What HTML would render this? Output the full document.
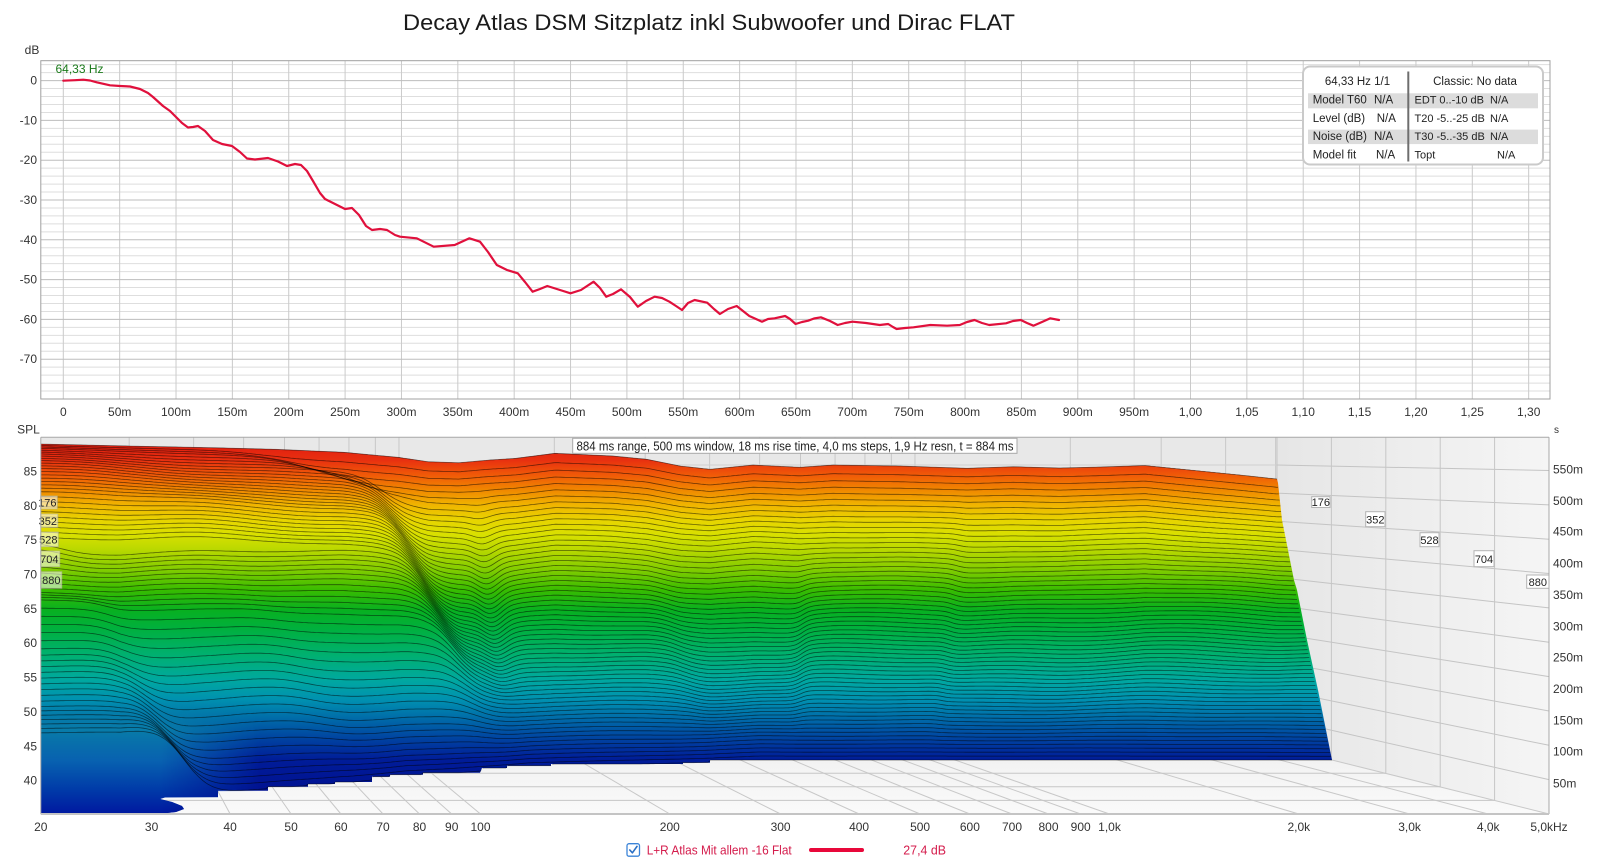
<!DOCTYPE html>
<html><head><meta charset="utf-8">
<style>
html,body{margin:0;padding:0;background:#fff;}
svg{display:block;}
text{font-family:"Liberation Sans",sans-serif;}
</style></head>
<body>
<svg id="s" width="1600" height="865" viewBox="0 0 1600 865" xmlns="http://www.w3.org/2000/svg">
<defs>
 <linearGradient id="spl" gradientUnits="userSpaceOnUse" x1="0" y1="437" x2="0" y2="814">
  <stop offset="0.008" stop-color="#e01810"/>
  <stop offset="0.061" stop-color="#e83010"/>
  <stop offset="0.101" stop-color="#f05a08"/>
  <stop offset="0.141" stop-color="#f08800"/>
  <stop offset="0.180" stop-color="#f0b400"/>
  <stop offset="0.220" stop-color="#e8d400"/>
  <stop offset="0.260" stop-color="#d8e000"/>
  <stop offset="0.300" stop-color="#b8d800"/>
  <stop offset="0.353" stop-color="#80cc00"/>
  <stop offset="0.406" stop-color="#38bc00"/>
  <stop offset="0.459" stop-color="#08b020"/>
  <stop offset="0.512" stop-color="#00b040"/>
  <stop offset="0.578" stop-color="#00b070"/>
  <stop offset="0.645" stop-color="#00a8a0"/>
  <stop offset="0.698" stop-color="#0090b0"/>
  <stop offset="0.751" stop-color="#0068a8"/>
  <stop offset="0.804" stop-color="#0040a0"/>
  <stop offset="0.857" stop-color="#001c98"/>
  <stop offset="0.963" stop-color="#000e90"/>
  <stop offset="1" stop-color="#000a88"/>
 </linearGradient>
 <linearGradient id="g2" gradientUnits="userSpaceOnUse" x1="0" y1="700" x2="0" y2="814">
  <stop offset="0" stop-color="#0a90a8" stop-opacity="0"/>
  <stop offset="0.26" stop-color="#0a86aa" stop-opacity="0.8"/>
  <stop offset="0.53" stop-color="#0862b0" stop-opacity="1"/>
  <stop offset="0.79" stop-color="#003aa8"/>
  <stop offset="1" stop-color="#0018a0"/>
 </linearGradient>
 <linearGradient id="fadeX" gradientUnits="userSpaceOnUse" x1="40" y1="0" x2="260" y2="0">
  <stop offset="0" stop-color="#fff"/>
  <stop offset="0.55" stop-color="#fff"/>
  <stop offset="1" stop-color="#000"/>
 </linearGradient>
 <mask id="m2" maskUnits="userSpaceOnUse" x="0" y="0" width="1600" height="865">
  <rect x="40" y="690" width="230" height="130" fill="url(#fadeX)"/>
 </mask>
 <linearGradient id="rwall" gradientUnits="userSpaceOnUse" x1="1277" y1="0" x2="1549" y2="0">
  <stop offset="0" stop-color="#e6e6e6"/>
  <stop offset="1" stop-color="#f5f5f5"/>
 </linearGradient>
 <linearGradient id="floorg" gradientUnits="userSpaceOnUse" x1="0" y1="746" x2="0" y2="814">
  <stop offset="0" stop-color="#f0f0f0"/>
  <stop offset="1" stop-color="#fafafa"/>
 </linearGradient>
 <clipPath id="surfclip">
  <polygon points="40.8,443.5 128,445.5 214,447.2 275,448.8 344,451.8 398,456.8 428,461.2 459,462.2 490,459.5 516,457.8 555,452.8 613,455.5 647,458.8 680,465.5 710,468.8 753,464.5 800,466.8 833,464.5 900,465.5 967,467.8 1013,466.2 1060,467.5 1100,466.5 1145,465 1200,470.5 1240,474.5 1277,478.5 1278,483 1282,520 1294,580 1297,590 1307,640 1318,690 1332,760.5 710,760.5 710,763.2 683,763.2 683,764.5 551,764.5 551,766.2 507,766.2 507,768.5 482,768.5 480,773.2 423,773.2 423,775.2 390,775.2 390,777.2 372,777.2 372,782.5 335,782.5 335,784.5 308,784.5 308,787.2 268,787.2 268,791.2 218,791.2 218,797.5 165,797.5 160,799 172,802 182,806 184,809 176,812 158,814 40.8,814"/>
 </clipPath>
</defs>

<rect x="0" y="0" width="1600" height="865" fill="#fff"/>

<!-- Title -->
<text x="709" y="30" font-size="22" text-anchor="middle" fill="#1a1a1a" textLength="612" lengthAdjust="spacingAndGlyphs">Decay Atlas DSM Sitzplatz inkl Subwoofer und Dirac FLAT</text>

<!-- ================= TOP CHART ================= -->
<rect x="40.8" y="60.7" width="1509.2" height="338.3" fill="#fff"/>
<g id="topgrid"></g>
<rect x="40.8" y="60.7" width="1509.2" height="338.3" fill="none" stroke="#a0a0a0" stroke-width="1"/>

<text x="32" y="54" font-size="12" text-anchor="middle" fill="#333">dB</text>
<g font-size="12" fill="#333" text-anchor="end">
 <text x="37" y="84.6">0</text>
 <text x="37" y="124.4">-10</text>
 <text x="37" y="164.2">-20</text>
 <text x="37" y="204">-30</text>
 <text x="37" y="243.8">-40</text>
 <text x="37" y="283.6">-50</text>
 <text x="37" y="323.4">-60</text>
 <text x="37" y="363.2">-70</text>
</g>
<g font-size="12" fill="#333" text-anchor="middle">
 <text x="63.3" y="416">0</text>
 <text x="119.7" y="416">50m</text>
 <text x="176" y="416">100m</text>
 <text x="232.4" y="416">150m</text>
 <text x="288.7" y="416">200m</text>
 <text x="345.1" y="416">250m</text>
 <text x="401.5" y="416">300m</text>
 <text x="457.8" y="416">350m</text>
 <text x="514.2" y="416">400m</text>
 <text x="570.5" y="416">450m</text>
 <text x="626.9" y="416">500m</text>
 <text x="683.3" y="416">550m</text>
 <text x="739.6" y="416">600m</text>
 <text x="796" y="416">650m</text>
 <text x="852.3" y="416">700m</text>
 <text x="908.7" y="416">750m</text>
 <text x="965.1" y="416">800m</text>
 <text x="1021.4" y="416">850m</text>
 <text x="1077.8" y="416">900m</text>
 <text x="1134.1" y="416">950m</text>
 <text x="1190.5" y="416">1,00</text>
 <text x="1246.9" y="416">1,05</text>
 <text x="1303.2" y="416">1,10</text>
 <text x="1359.6" y="416">1,15</text>
 <text x="1415.9" y="416">1,20</text>
 <text x="1472.3" y="416">1,25</text>
 <text x="1528.7" y="416">1,30</text>
</g>
<text x="1554" y="433" font-size="10" fill="#333">s</text>

<text x="55.5" y="73" font-size="12" fill="#1a7a1a">64,33 Hz</text>

<polyline fill="none" stroke="#e0103c" stroke-width="2.2" stroke-linejoin="round" stroke-linecap="round" points="63.3,80.7 75,80.2 83.3,79.7 90,80.5 96.7,82.3 110,85.3 120,86 130,86.5 140,89 148,93 153,97 163,106 170,111 175,116 182,123 188,127.5 193,127 198,126 205,131 213,140 222,144 232,146 240,152 247,158.5 255,159.5 268,158 278,161.5 287,166 295,164 301,165 307,171 313,181 320,193 325,199 335,204 345,209 352,208 359,215 366,226 372,230 380,229 387,230 395,235 400,236.7 416.8,238.3 433.7,246.7 454.7,245 469.4,238.3 480,241.7 488,252 496.8,265 507,270 517.8,273.3 525,282 532.6,291.7 540,289 547.3,286 560,290 570.5,293.3 581,290 593.6,281.7 600,288 606.2,296.7 613,294 621,289.3 630,297 637.8,306.7 646,301 654.6,296.7 662,298 669.4,301.7 676,306 682,310 688,303 694.6,300 707.2,302.7 714,309 719.9,314 728,309 736.7,306 743,311 749.3,316 756,319 762,321.7 768,319 774.6,318.3 785.1,316 790,319 795.6,324 802,322 808.2,320.7 814,318.5 820.9,317.3 830,321 837.7,325 845,323 852.4,321.7 866,323 879.8,325 888.2,324 893,327 896.6,329 905,328 913.5,327.3 930.3,325 947.1,325.7 959.8,325 967,322 974.5,320 982,323 989.2,325 1006,323.3 1013,321 1020.8,320 1027,323 1033.4,325.7 1042,322 1050.3,318.3 1059,320"/>

<!-- Info box -->
<rect x="1303" y="66.5" width="240" height="98" rx="7" ry="7" fill="#fff" stroke="#cacaca" stroke-width="2"/>
<rect x="1308" y="93.3" width="230" height="15" fill="#dcdcdc"/>
<rect x="1308" y="129.6" width="230" height="14.5" fill="#dcdcdc"/>
<line x1="1408.3" y1="71.5" x2="1408.3" y2="161.5" stroke="#6e6e6e" stroke-width="2"/>
<g font-size="11.5" fill="#222">
 <text x="1357.5" y="85.2" text-anchor="middle">64,33 Hz 1/1</text>
 <text x="1475" y="85.2" text-anchor="middle">Classic: No data</text>
 <text x="1312.7" y="103.6">Model T60</text>
 <text x="1374" y="103.6">N/A</text>
 <text x="1312.7" y="121.9">Level (dB)</text>
 <text x="1376.7" y="121.9">N/A</text>
 <text x="1312.7" y="140.2">Noise (dB)</text>
 <text x="1374" y="140.2">N/A</text>
 <text x="1312.7" y="158.3">Model fit</text>
 <text x="1376" y="158.3">N/A</text>
</g>
<g font-size="11" fill="#222">
 <text x="1414.5" y="103.6">EDT 0..-10 dB</text>
 <text x="1490" y="103.6">N/A</text>
 <text x="1414.5" y="121.9">T20 -5..-25 dB</text>
 <text x="1490" y="121.9">N/A</text>
 <text x="1414.5" y="140.2">T30 -5..-35 dB</text>
 <text x="1490" y="140.2">N/A</text>
 <text x="1414.5" y="158.3">Topt</text>
 <text x="1497" y="158.3">N/A</text>
</g>

<!-- ================= WATERFALL ================= -->
<text x="28.5" y="433.5" font-size="12" text-anchor="middle" fill="#333">SPL</text>
<!-- walls -->
<rect x="40.8" y="437.3" width="1236.2" height="308.7" fill="#e8e8e8"/>
<polygon points="1277,437.3 1549,437.3 1549,814 1277,746" fill="url(#rwall)"/>
<polygon points="40.8,746 1277,746 1549,814 40.8,814" fill="url(#floorg)"/>
<g id="wfgrid"></g>

<!-- surface -->
<polygon fill="url(#spl)" points="40.8,444 128,446 214,447.7 275,449.3 344,452.3 398,457.3 428,461.7 459,462.7 490,460 516,458.3 555,453.3 613,456 647,459.3 680,466 710,469.3 753,465 800,467.3 833,465 900,466 967,468.3 1013,466.7 1060,468 1100,467 1145,465.5 1200,471 1240,475 1277,479 1278,483 1282,520 1294,580 1297,590 1307,640 1318,690 1332,760 710,760 710,762.7 683,762.7 683,764 551,764 551,765.7 507,765.7 507,768 482,768 480,772.7 423,772.7 423,774.7 390,774.7 390,776.7 372,776.7 372,782 335,782 335,784 308,784 308,786.7 268,786.7 268,790.7 218,790.7 218,797 165,797 160,799 172,802 182,806 184,809 176,812 158,814 40.8,814"/>
<rect x="40.8" y="700" width="230" height="114" fill="url(#g2)" mask="url(#m2)" clip-path="url(#surfclip)"/>
<g id="wflines" clip-path="url(#surfclip)"></g>

<!-- info text box -->
<rect x="572.7" y="438.3" width="444.3" height="15" fill="#fff" stroke="#a8a8a8" stroke-width="1"/>
<text x="576.5" y="450.3" font-size="12.5" fill="#222" textLength="437" lengthAdjust="spacingAndGlyphs">884 ms range, 500 ms window, 18 ms rise time, 4,0 ms steps,  1,9 Hz resn, t = 884 ms</text>

<!-- left slice labels -->
<g font-size="11" fill="#222">
 <rect x="40.8" y="496" width="16.5" height="13" fill="#fff" fill-opacity="0.55" stroke="#b0b090" stroke-opacity="0.6"/>
 <text x="56.5" y="506.5" text-anchor="end">176</text>
 <rect x="40.8" y="514" width="17" height="13.3" fill="#fff" fill-opacity="0.55" stroke="#b0b090" stroke-opacity="0.6"/>
 <text x="57" y="524.8" text-anchor="end">352</text>
 <rect x="40.8" y="532" width="17.5" height="14.7" fill="#fff" fill-opacity="0.55" stroke="#b0b090" stroke-opacity="0.6"/>
 <text x="57.5" y="543.6" text-anchor="end">528</text>
 <rect x="40.8" y="551" width="19" height="15.7" fill="#fff" fill-opacity="0.55" stroke="#b0b090" stroke-opacity="0.6"/>
 <text x="58.5" y="563" text-anchor="end">704</text>
 <rect x="40.8" y="571.7" width="21" height="16.6" fill="#fff" fill-opacity="0.55" stroke="#b0b090" stroke-opacity="0.6"/>
 <text x="60.5" y="584.2" text-anchor="end">880</text>
</g>
<!-- right slice labels -->
<g font-size="11" fill="#222" text-anchor="middle">
 <rect x="1311.7" y="496.7" width="18.3" height="10.8" fill="#fff" stroke="#b4b4b4"/>
 <text x="1320.8" y="506">176</text>
 <rect x="1365.7" y="511.7" width="19.3" height="15" fill="#fff" stroke="#b4b4b4"/>
 <text x="1375.3" y="523.3">352</text>
 <rect x="1420" y="532.7" width="19" height="14" fill="#fff" stroke="#b4b4b4"/>
 <text x="1429.5" y="543.8">528</text>
 <rect x="1474" y="550.7" width="20" height="16" fill="#fff" stroke="#b4b4b4"/>
 <text x="1484" y="562.8">704</text>
 <rect x="1526.7" y="575" width="22.3" height="13.3" fill="#fff" stroke="#b4b4b4"/>
 <text x="1537.8" y="585.8">880</text>
</g>

<!-- border -->
<line x1="40.8" y1="437.3" x2="1549" y2="437.3" stroke="#a8a8a8" stroke-width="1"/>
<line x1="40.8" y1="437.3" x2="40.8" y2="814" stroke="#a8a8a8" stroke-width="1"/>
<line x1="1549" y1="437.3" x2="1549" y2="814" stroke="#a8a8a8" stroke-width="1"/>
<line x1="40.8" y1="814" x2="1549" y2="814" stroke="#c4c4c4" stroke-width="2"/>

<!-- SPL labels -->
<g font-size="12" fill="#333" text-anchor="end">
 <text x="37" y="475.5">85</text>
 <text x="37" y="509.8">80</text>
 <text x="37" y="544.2">75</text>
 <text x="37" y="578.5">70</text>
 <text x="37" y="612.9">65</text>
 <text x="37" y="647.2">60</text>
 <text x="37" y="681.6">55</text>
 <text x="37" y="715.9">50</text>
 <text x="37" y="750.3">45</text>
 <text x="37" y="784.6">40</text>
</g>
<!-- right time labels -->
<g font-size="12" fill="#333">
 <text x="1553" y="473.3">550m</text>
 <text x="1553" y="505">500m</text>
 <text x="1553" y="535.7">450m</text>
 <text x="1553" y="567.3">400m</text>
 <text x="1553" y="599">350m</text>
 <text x="1553" y="630.7">300m</text>
 <text x="1553" y="661.3">250m</text>
 <text x="1553" y="693">200m</text>
 <text x="1553" y="724.3">150m</text>
 <text x="1553" y="755.7">100m</text>
 <text x="1553" y="787.3">50m</text>
</g>
<!-- frequency labels -->
<g font-size="12" fill="#333" text-anchor="middle">
 <text x="40.8" y="831">20</text>
 <text x="151.6" y="831">30</text>
 <text x="230.1" y="831">40</text>
 <text x="291.1" y="831">50</text>
 <text x="340.9" y="831">60</text>
 <text x="383" y="831">70</text>
 <text x="419.5" y="831">80</text>
 <text x="451.7" y="831">90</text>
 <text x="480.5" y="831">100</text>
 <text x="669.8" y="831">200</text>
 <text x="780.6" y="831">300</text>
 <text x="859.1" y="831">400</text>
 <text x="920.1" y="831">500</text>
 <text x="969.9" y="831">600</text>
 <text x="1012" y="831">700</text>
 <text x="1048.5" y="831">800</text>
 <text x="1080.7" y="831">900</text>
 <text x="1109.5" y="831">1,0k</text>
 <text x="1298.8" y="831">2,0k</text>
 <text x="1409.6" y="831">3,0k</text>
 <text x="1488.2" y="831">4,0k</text>
 <text x="1549" y="831">5,0kHz</text>
</g>

<!-- Legend -->
<rect x="627" y="843.7" width="12.5" height="12.5" rx="2" ry="2" fill="#fff" stroke="#3b84d8" stroke-width="1.3"/>
<path d="M629.8,850 L632.4,852.8 L637,846.4" fill="none" stroke="#2a6fc4" stroke-width="1.6" stroke-linecap="round" stroke-linejoin="round"/>
<text x="646.7" y="854.5" font-size="12.5" fill="#d41c4c" textLength="145" lengthAdjust="spacingAndGlyphs">L+R Atlas Mit allem -16 Flat</text>
<line x1="811" y1="850" x2="862" y2="850" stroke="#e8083a" stroke-width="4" stroke-linecap="round"/>
<text x="903.3" y="854.5" font-size="12.5" fill="#d41c4c" textLength="42.7" lengthAdjust="spacingAndGlyphs">27,4 dB</text>
</svg>

<script>
(function(){
var NS="http://www.w3.org/2000/svg";
function el(p,tag,a){var e=document.createElementNS(NS,tag);for(var k in a)e.setAttribute(k,a[k]);p.appendChild(e);return e;}
function ln(p,x1,y1,x2,y2,st,w){el(p,'line',{x1:x1,y1:y1,x2:x2,y2:y2,stroke:st,'stroke-width':w||1});}

/* top chart grid */
var tg=document.getElementById('topgrid');
var db,y,x,t;
for(db=4;db>=-78;db-=2){ if(db%10===0) continue; y=80.6-db*3.98; ln(tg,40.8,y,1550,y,'#dedede',1);}
for(t=0;t<=1300;t+=50){ x=63.3+1.1272*t; ln(tg,x,60.7,x,399,'#cacaca',1);}
for(db=0;db>=-70;db-=10){ y=80.6-db*3.98; ln(tg,40.8,y,1550,y,'#bdbdbd',1);}

/* waterfall grid */
var wg=document.getElementById('wfgrid');
function L(f){return Math.log(f/20)/Math.LN10;}
var freqs=[30,40,50,60,70,80,90,100,200,300,400,500,600,700,800,900,1000,2000,3000,4000,5000];
for(var i=0;i<freqs.length;i++){var f=freqs[i]; var xb=38.3+516*L(f), xf=40.8+629*L(f);
  ln(wg,xb,437.3,xb,746,'#c8c8c8',1); ln(wg,xb,746,xf,814,'#c8c8c8',1);}
for(var S=40;S<=85;S+=5){ var yb=746-(S-35)*5.62, yfr=814-(S-35)*6.87;
  ln(wg,40.8,yb,1277,yb,'#cfcfcf',1); ln(wg,1277,yb,1549,yfr,'#c4c4c4',1);}
for(var k=0;k<=5;k++){ x=1277+54.4*k; y=746+13.6*k; ln(wg,x,437.3,x,y,'#c6c6c6',1); ln(wg,40.8,y,x,y,'#c6c6c6',1);}

/* waterfall lines */
var TP=[[40.8,444],[128,446],[214,447.7],[275,449.3],[344,452.3],[398,457.3],[428,461.7],[459,462.7],[490,460],[516,458.3],[555,453.3],[613,456],[647,459.3],[680,466],[710,469.3],[753,465],[800,467.3],[833,465],[900,466],[967,468.3],[1013,466.7],[1060,468],[1100,467],[1145,465.5],[1200,471],[1240,475],[1277,479],[1400,481]];
var BS=[[40.8,812],[120,810],[160,803],[200,796],[243,791],[288,787],[322,784.5],[353,782],[381,779],[406,776],[450,773.5],[494,770],[530,767],[600,765],[700,762.5],[760,760],[1400,760]];
var BSTEP=[[159,814],[218,797],[268,790.7],[308,786.7],[335,784],[372,782],[390,776.7],[423,774.7],[481,772.7],[507,768],[551,765.7],[683,764],[710,762.7]];
function ip(p,x){ if(x<=p[0][0])return p[0][1]; for(var i=1;i<p.length;i++){ if(x<=p[i][0]){var a=p[i-1],b=p[i];return a[1]+(b[1]-a[1])*(x-a[0])/(b[0]-a[0]);}} return p[p.length-1][1];}
function bst(x){for(var i=0;i<BSTEP.length;i++){if(x<BSTEP[i][0])return BSTEP[i][1];}return 760;}
function sig(z){return 1/(1+Math.exp(-z));}
function bump(u,a,b){ if(u<=a||u>=b) return 0; return Math.sin(Math.PI*(u-a)/(b-a)); }

var VA=[[0,0],[0.05,0.01],[0.1,0.025],[0.15,0.045],[0.2,0.07],[0.3,0.13],[0.45,0.26],[0.55,0.36],[0.6,0.40],[0.65,0.42],[0.75,0.56],[0.9,0.71],[1,0.785]];
var VB=[[0,0],[0.05,0.02],[0.1,0.05],[0.2,0.11],[0.3,0.17],[0.45,0.29],[0.55,0.37],[0.65,0.46],[0.75,0.63],[0.85,0.79],[0.92,0.9],[1,1.0]];
var VC=[[0,0],[0.1,0.05],[0.2,0.11],[0.3,0.17],[0.45,0.29],[0.55,0.38],[0.65,0.49],[0.75,0.67],[0.85,0.83],[0.93,0.93],[1,1]];

function Y(u,x){
  var t=ip(TP,x), b=ip(BS,x);
  var va=ip(VA,u), vb=ip(VB,u), vc=ip(VC,u), vd=Math.pow(u,0.85);
  var xf1,w1,xf2,xf3;
  if(u<0.45){ xf1=80+200*u/0.45; w1=40; } else { xf1=60+125*(u-0.45)/0.55; w1=13; }
  xf2 = (u<0.45) ? 300 : 215+150*(u-0.45)/0.55;
  xf3 = (u<0.1) ? 240+1300*u : Math.min(485, 380+100*(u-0.1)/0.75);
  var w3 = (u<0.1) ? 22 : 12;
  var v = va + (vb-va)*sig((x-xf1)/w1) + (vc-vb)*sig((x-xf2)/16) + (vd-vc)*sig((x-xf3)/w3);
  var y = t + (b-t)*v;
  var a;
  a=12*bump(u,0.05,0.75); if(a) y+=a*Math.exp(-Math.pow((x-(475+40*u))/14,2));
  a=10*bump(u,0.2,0.9); if(a) y+=a*(sig((x-(655+70*(u-0.2)))/8)-sig((x-(806-8*u))/4));
  a=5*bump(u,0.05,0.95); if(a) y+=a*(sig((x-(965-30*u))/4)-sig((x-1120)/30));
  y+=1.1*Math.sin(x/27+u*9)*bump(u,0,1);
  if(y<t) y=t;
  var fl=bst(x); if(y>fl) y=fl;
  return y;
}
var wl=document.getElementById('wflines');
var N=64;
for(var n=0;n<N;n++){
  var u=n/(N-1);
  var xe=1277+55*u;
  var d='';
  for(x=40.8;x<=xe;x+=2.5){ d+=(d?'L':'M')+x.toFixed(1)+','+Y(u,x).toFixed(1); }
  d+='L'+xe.toFixed(1)+','+Y(u,xe).toFixed(1);
  el(wl,'path',{d:d,fill:'none',stroke:'#000','stroke-opacity':'0.55','stroke-width':'0.8'});
}
})();
</script>
</body></html>
